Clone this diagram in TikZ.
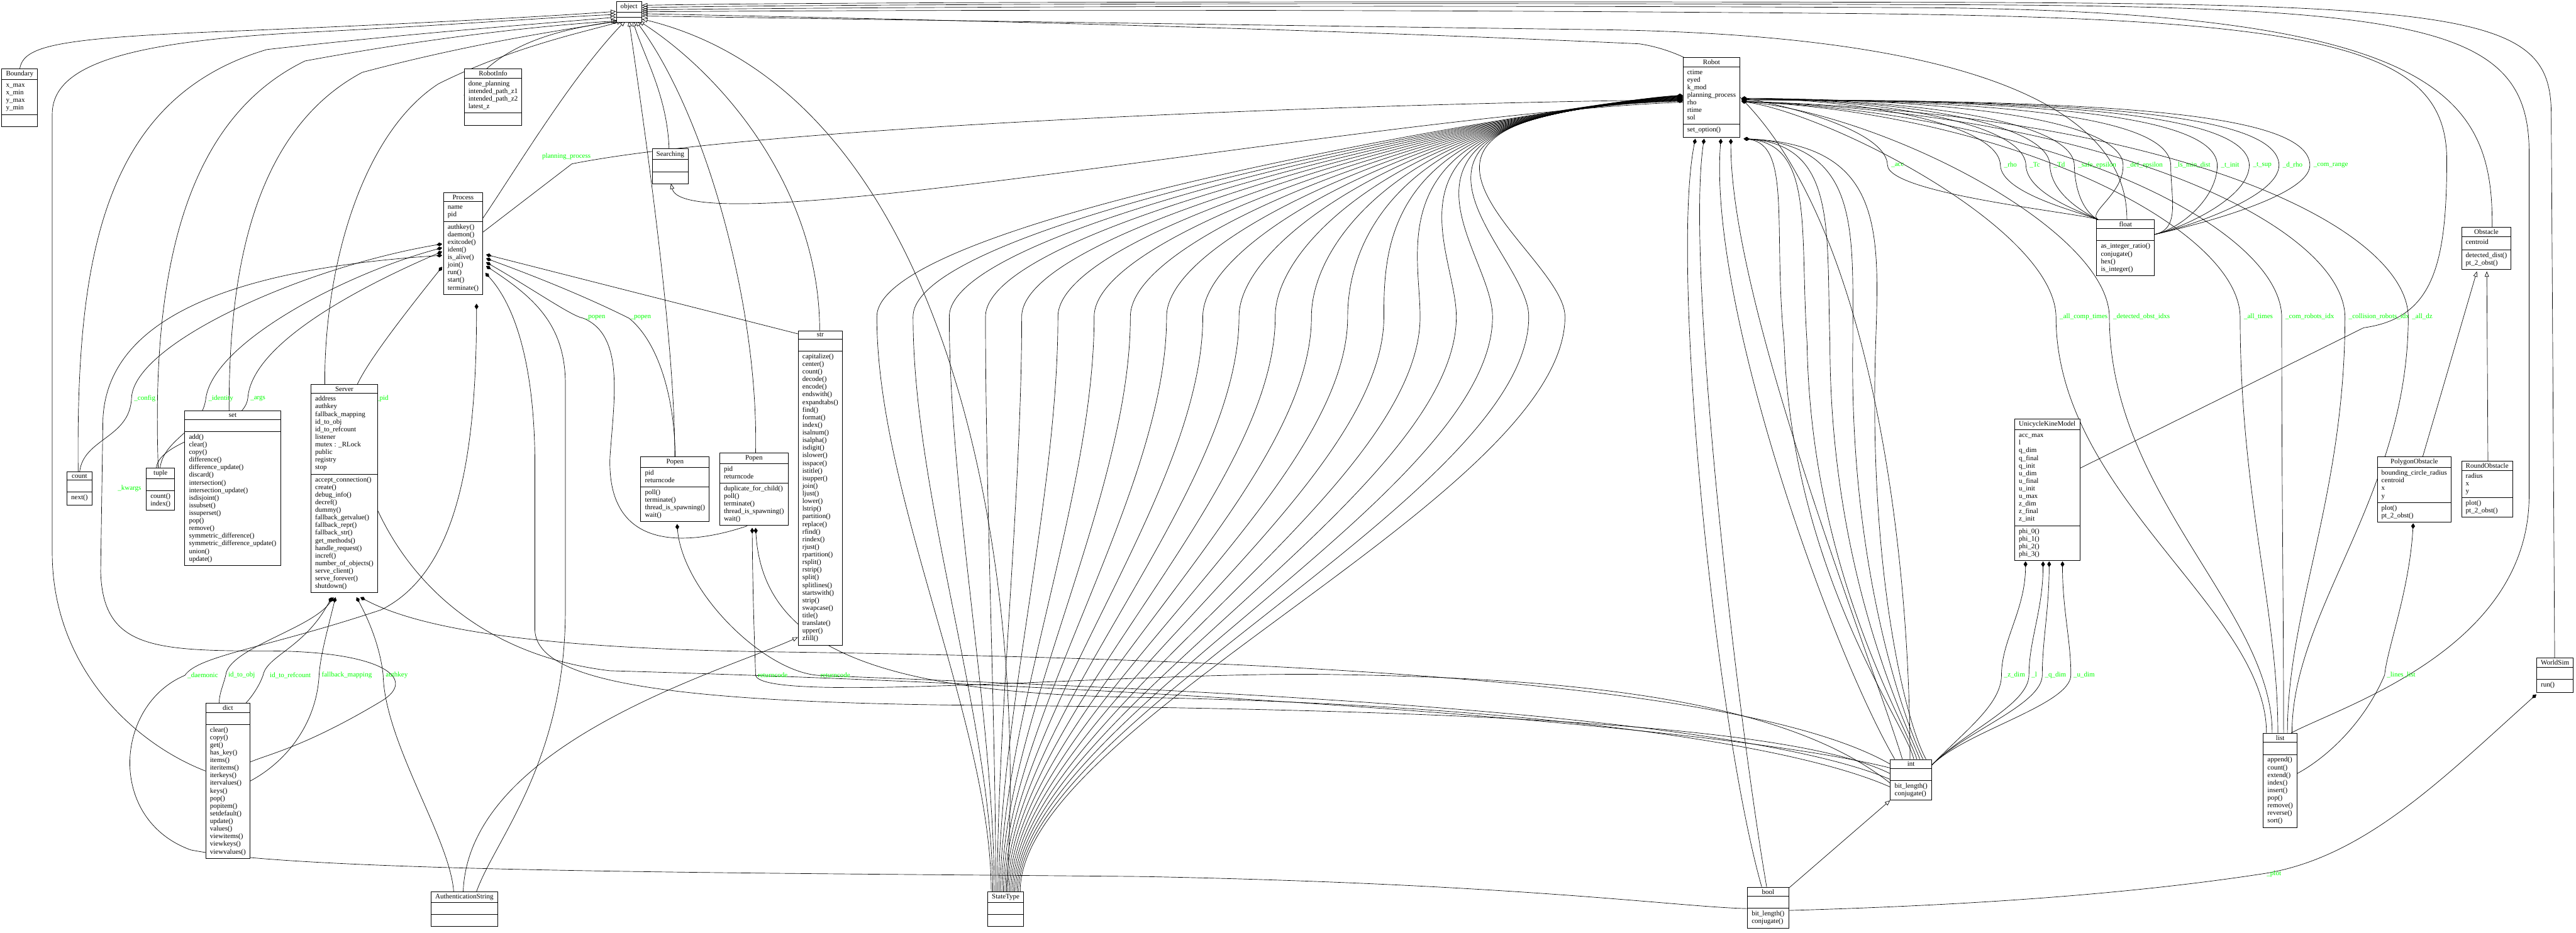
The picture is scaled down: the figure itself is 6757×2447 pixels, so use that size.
\documentclass[tikz,border=0pt]{standalone}
\usepackage{fontspec}
\setmainfont{Liberation Serif}
\usetikzlibrary{shapes.multipart,arrows.meta}
\newcommand\umlfont{\fontsize{1.82pt}{2.0pt}\selectfont}
\newcommand\cl[1]{\begin{tabular}{@{}l@{}}#1\end{tabular}}
\newcommand\thinpart{\rule{0pt}{0.2pt}}
\tikzset{
  cls/.style={rectangle split, rectangle split parts=3, draw, line width=0.15pt, font=\umlfont,
    rectangle split part align={center,left,left}, inner xsep=1.1pt, inner ysep=0.5pt, anchor=north west, fill=white},
  inh/.style={-{Triangle[open,length=1.4pt,width=1.1pt]}, line width=0.11pt},
  comp/.style={{Diamond[length=1.5pt,width=1.0pt]}-, line width=0.11pt},
  lbl/.style={text=green, font=\umlfont, inner sep=0pt, anchor=west}
}
\begin{document}
\begin{tikzpicture}[x=0.1pt,y=-0.1pt]
\useasboundingbox (0,0) rectangle (6757,2447);
% ---------- inheritance, left side
\draw[inh] (52,180) .. controls (62,120) and (150,100) .. (600,82) .. controls (1100,62) and (1450,42) .. (1616,30);
\draw[inh] (205,1237) .. controls (200,700) and (260,260) .. (700,130) .. controls (1100,85) and (1450,60) .. (1616,45);
\draw[inh] (415,1227) .. controls (400,800) and (450,330) .. (800,160) .. controls (1150,95) and (1450,65) .. (1618,55);
\draw[inh] (601,1078) .. controls (600,750) and (650,350) .. (950,190) .. controls (1250,110) and (1500,75) .. (1625,55);
\draw[inh] (852,1008) .. controls (850,700) and (950,350) .. (1150,220) .. controls (1350,120) and (1550,80) .. (1632,55);
\draw[inh] (1267,572) .. controls (1350,450) and (1500,200) .. (1640,55);
\draw[inh] (539,2023) .. controls (350,1950) and (137,1750) .. (137,1450) -- (137,300) .. controls (137,180) and (300,110) .. (800,85) .. controls (1200,65) and (1450,45) .. (1616,38);
\draw[inh] (1217,250) .. controls (1300,120) and (1450,80) .. (1622,55);
\draw[inh] (1755,390) .. controls (1750,250) and (1690,150) .. (1660,55);
\draw[inh] (1770,1198) .. controls (1770,900) and (1700,400) .. (1650,55);
\draw[inh] (1982,1188) .. controls (1990,800) and (1850,300) .. (1668,55);
\draw[inh] (2150,867) .. controls (2150,500) and (1900,200) .. (1676,55);
\draw[inh] (2640,2339) .. controls (2700,1500) and (2500,250) .. (1684,50);
% ---------- inheritance, right side (over the top)
\draw[inh] (5579,575) .. controls (5579,380) and (5400,95) .. (4200,78) .. controls (3000,62) and (2100,48) .. (1684,42);
\draw[inh] (5010,1992) .. controls (5010,1300) and (4850,200) .. (4300,115) .. controls (3200,65) and (2100,45) .. (1684,36);
\draw[inh] (5453,1230) -- (6200,860) .. controls (6380,835) and (6418,700) .. (6418,420) .. controls (6418,120) and (6100,45) .. (4800,35) .. controls (3300,22) and (2100,28) .. (1684,31);
\draw[inh] (6537,596) .. controls (6540,250) and (6400,25) .. (5000,20) .. controls (3500,12) and (2100,20) .. (1684,26);
\draw[inh] (6010,1923) .. controls (6150,1850) and (6634,1700) .. (6634,1300) -- (6634,400) .. controls (6634,60) and (6350,14) .. (5000,12) .. controls (3500,6) and (2100,12) .. (1684,20);
\draw[inh] (6701,1726) -- (6692,300) .. controls (6692,40) and (6500,8) .. (5000,6) .. controls (3500,3) and (2100,6) .. (1684,14);
% ---------- other inheritance
\draw[inh] (1215,2339) .. controls (1230,1950) and (1900,1760) .. (2093,1672);
\draw[inh] (4690,2332) -- (4958,2100);
\draw[inh] (6355,1198) -- (6497,712);
\draw[inh] (6526,1209) -- (6523,712);
\draw[inh] (4414,268) .. controls (3600,300) and (1800,650) .. (1760,482);
% ---------- Robot -> float
\foreach \lx/\nm in {4959/\_acc,5255/\_rho,5322/\_Tc,5385/\_Td,5449/\_safe\_epsilon,5577/\_def\_epsilon}{
  \draw[comp] (4568,258) .. controls ({\lx-350},262) and ({\lx-12},330) .. ({\lx-8},433) .. controls ({\lx-6},510) and (5470,560) .. (5505,577);
  \node[lbl] at (\lx,433) {\nm};}
\foreach \lx/\nm in {5702/\_ls\_min\_dist,5824/\_t\_init,5908/\_t\_sup,5986/\_d\_rho,6067/\_com\_range}{
  \draw[comp] (4568,262) .. controls ({\lx-500},262) and ({\lx-12},300) .. ({\lx-8},433) .. controls ({\lx-8},520) and (5720,600) .. (5652,615);
  \node[lbl] at (\lx,433) {\nm};}
% ---------- Robot -> list
\foreach \lx/\nm/\ex in {5401/\_all\_comp\_times/5945,5541/\_detected\_obst\_idxs/5960,5884/\_all\_times/5975,5993/\_com\_robots\_idx/5990,6159/\_collision\_robots\_idx/6000,6325/\_all\_dz/6012}{
  \draw[comp] (4568,266) .. controls ({\lx-600},300) and ({\lx-12},600) .. ({\lx-8},831) .. controls ({\lx-8},1300) and (\ex,1600) .. (\ex,1923);
  \node[lbl] at (\lx,831) {\nm};}
% ---------- Robot bottom -> int / bool
\draw[comp] (4447,364) .. controls (4380,700) and (4500,1900) .. (4621,2327);
\draw[comp] (4470,364) .. controls (4420,700) and (4560,1900) .. (4634,2327);
\draw[comp] (4514,364) .. controls (4480,800) and (4800,1700) .. (4970,1992);
\draw[comp] (4540,364) .. controls (4540,800) and (4900,1700) .. (4990,1992);
\foreach \k in {0,1,2,3,4}
  \draw[comp] (4574,364) .. controls ({4700+\k*60},380) and ({4650+\k*70},600) .. ({4680+\k*60},900) .. controls ({4700+\k*50},1500) and (5000,1900) .. ({5020+\k*8},1992);
% ---------- StateType fan -> Robot
\foreach \k in {0,...,19}
  \draw[comp] (4414,{250+\k*0.8}) .. controls ({4200-\k*40},{260+\k*2}) and ({2300+\k*95},{560+\k*5}) .. ({2300+\k*95},831) .. controls ({2300+\k*95},1300) and ({2600+\k*4},1900) .. ({2600+\k*4},2339);
% ---------- Robot -> Process
\draw[comp] (4414,262) .. controls (3600,270) and (2000,330) .. (1500,430) -- (1267,609);
\node[lbl] at (1420,410) {planning\_process};
% ---------- Process compositions
\draw[comp] (1275,668) -- (2093,876);
\draw[comp] (1275,678) .. controls (1500,760) and (1620,820) .. (1650,835) .. controls (1730,900) and (1770,1050) .. (1771,1198);
\node[lbl] at (1652,833) {\_popen};
\draw[comp] (1275,688) .. controls (1400,760) and (1500,830) .. (1530,835) .. controls (1640,880) and (1610,1050) .. (1600,1200) .. controls (1590,1500) and (1900,1400) .. (1960,1380);
\node[lbl] at (1532,833) {\_popen};
\draw[comp] (1275,698) .. controls (1400,780) and (1480,850) .. (1483,1000) -- (1483,1600) .. controls (1483,2000) and (1300,2200) .. (1250,2339);
\draw[comp] (1273,716) .. controls (1350,800) and (1400,950) .. (1403,1200) -- (1403,1650) .. controls (1403,1780) and (1700,1840) .. (2500,1850) .. controls (3800,1860) and (4700,1900) .. (4958,2030);
% Process left side
\draw[comp] (1160,640) .. controls (800,700) and (350,900) .. (345,1045) .. controls (340,1150) and (220,1150) .. (209,1237);
\node[lbl] at (350,1045) {\_config};
\draw[comp] (1160,650) .. controls (900,720) and (560,900) .. (540,1045) .. controls (530,1130) and (430,1150) .. (420,1227);
\node[lbl] at (545,1045) {\_identity};
\draw[comp] (1160,660) .. controls (950,750) and (660,900) .. (650,1045) .. controls (640,1130) and (420,1150) .. (410,1227);
\node[lbl] at (655,1045) {\_args};
\draw[comp] (1160,670) .. controls (700,700) and (283,800) .. (270,1100) -- (264,1500) .. controls (270,1700) and (400,1708) .. (700,1708) .. controls (1000,1708) and (1100,1780) .. (1000,1840) .. controls (800,1960) and (700,1980) .. (655,2000);
\node[lbl] at (307,1282) {\_kwargs};
\draw[comp] (1160,700) .. controls (1000,900) and (930,1000) .. (925,1045) .. controls (920,1300) and (1100,1700) .. (1600,1760) .. controls (3000,1800) and (4500,1900) .. (4958,2015);
\node[lbl] at (930,1045) {\_parent\_pid};
% ---------- Server compositions
\draw[comp] (875,1567) .. controls (820,1650) and (600,1700) .. (592,1772) .. controls (585,1800) and (575,1820) .. (575,1844);
\node[lbl] at (597,1772) {id\_to\_obj};
\draw[comp] (870,1567) .. controls (800,1700) and (700,1720) .. (690,1772) .. controls (680,1800) and (660,1830) .. (640,1850);
\node[lbl] at (706,1772) {id\_to\_refcount};
\draw[comp] (880,1567) .. controls (860,1650) and (840,1720) .. (837,1772) .. controls (830,1900) and (750,2000) .. (655,2050);
\node[lbl] at (842,1772) {fallback\_mapping};
\draw[comp] (935,1567) .. controls (980,1650) and (1000,1720) .. (1005,1772) .. controls (1010,1950) and (1180,2200) .. (1190,2339);
\node[lbl] at (1010,1772) {authkey};
\draw[comp] (945,1567) .. controls (1100,1650) and (1400,1700) .. (2000,1710) .. controls (3500,1730) and (4600,1800) .. (4958,2005);
% ---------- _daemonic: Process -> around dict -> bool
\draw[comp] (1250,797) .. controls (1250,1200) and (1200,1500) .. (1000,1600) .. controls (700,1700) and (520,1720) .. (485,1772) .. controls (300,1850) and (280,2150) .. (500,2230) .. controls (800,2290) and (2000,2290) .. (3000,2300) .. controls (4000,2320) and (4400,2380) .. (4583,2384);
\node[lbl] at (490,1772) {\_daemonic};
% ---------- Popen compositions
\draw[comp] (1776,1375) .. controls (1790,1550) and (2000,1760) .. (2145,1772) .. controls (2800,1800) and (4500,1850) .. (4958,2045);
\node[lbl] at (2150,1772) {returncode};
\draw[comp] (1973,1385) .. controls (1975,1600) and (1980,1700) .. (1982,1772) .. controls (2000,1850) and (3000,1760) .. (3500,1770) .. controls (4200,1780) and (4700,1850) .. (4958,2055);
\node[lbl] at (1986,1772) {returncode};
\draw[comp] (1982,1385) .. controls (2000,1700) and (2300,1820) .. (3000,1830) .. controls (4000,1850) and (4700,1950) .. (4958,2065);
% ---------- Unicycle -> int
\foreach \sx/\lx/\nm in {5313/5255/\_z\_dim,5359/5327/\_l,5375/5362/\_q\_dim,5410/5437/\_u\_dim}{
  \draw[comp] (\sx,1473) .. controls (\sx,1600) and ({\lx-5},1680) .. ({\lx-5},1771) .. controls ({\lx-5},1850) and (5150,1920) .. (5065,2010);
  \node[lbl] at (\lx,1771) {\nm};}
% ---------- Polygon -> list, WorldSim -> bool
\draw[comp] (6330,1373) .. controls (6320,1550) and (6262,1700) .. (6255,1771) .. controls (6200,1900) and (6100,1990) .. (6025,2030);
\node[lbl] at (6259,1771) {\_lines\_list};
\draw[comp] (6653,1822) .. controls (6400,2050) and (6200,2250) .. (5940,2292) .. controls (5500,2360) and (5000,2380) .. (4690,2389);
\node[lbl] at (5944,2292) {\_plot};
% ---------------- classes
\node[cls,anchor=north] (object) at (1650,3) {object\nodepart{two}\thinpart\nodepart{three}\thinpart};
\node[cls] (Boundary) at (4,180) {Boundary\nodepart{two}\cl{x\_max\\x\_min\\y\_max\\y\_min}\nodepart{three}\strut};
\node[cls] (RobotInfo) at (1217,180) {RobotInfo\nodepart{two}\cl{done\_planning\\intended\_path\_z1\\intended\_path\_z2\\latest\_z}\nodepart{three}\strut};
\node[cls] (Robot) at (4414,150) {Robot\nodepart{two}\cl{ctime\\eyed\\k\_mod\\planning\_process\\rho\\rtime\\sol}\nodepart{three}\cl{set\_option()}};
\node[cls,anchor=north east] (Process) at (1267,505) {Process\nodepart{two}\cl{name\\pid}\nodepart{three}\cl{authkey()\\daemon()\\exitcode()\\ident()\\is\_alive()\\join()\\run()\\start()\\terminate()}};
\node[cls] (Searching) at (1710,390) {Searching\nodepart{two}\strut\nodepart{three}\strut};
\node[cls] (Server) at (815,1008) {Server\nodepart{two}\cl{address\\authkey\\fallback\_mapping\\id\_to\_obj\\id\_to\_refcount\\listener\\mutex : \_RLock\\public\\registry\\stop}\nodepart{three}\cl{accept\_connection()\\create()\\debug\_info()\\decref()\\dummy()\\fallback\_getvalue()\\fallback\_repr()\\fallback\_str()\\get\_methods()\\handle\_request()\\incref()\\number\_of\_objects()\\serve\_client()\\serve\_forever()\\shutdown()}};
\node[cls] (str) at (2093,867) {str\nodepart{two}\strut\nodepart{three}\cl{capitalize()\\center()\\count()\\decode()\\encode()\\endswith()\\expandtabs()\\find()\\format()\\index()\\isalnum()\\isalpha()\\isdigit()\\islower()\\isspace()\\istitle()\\isupper()\\join()\\ljust()\\lower()\\lstrip()\\partition()\\replace()\\rfind()\\rindex()\\rjust()\\rpartition()\\rsplit()\\rstrip()\\split()\\splitlines()\\startswith()\\strip()\\swapcase()\\title()\\translate()\\upper()\\zfill()}};
\node[cls] (set) at (484,1078) {set\nodepart{two}\strut\nodepart{three}\cl{add()\\clear()\\copy()\\difference()\\difference\_update()\\discard()\\intersection()\\intersection\_update()\\isdisjoint()\\issubset()\\issuperset()\\pop()\\remove()\\symmetric\_difference()\\symmetric\_difference\_update()\\union()\\update()}};
\node[cls] (tuple) at (383,1227) {tuple\nodepart{two}\strut\nodepart{three}\cl{count()\\index()}};
\node[cls] (count) at (175,1237) {count\nodepart{two}\strut\nodepart{three}\cl{next()}};
\node[cls] (dict) at (539,1844) {dict\nodepart{two}\strut\nodepart{three}\cl{clear()\\copy()\\get()\\has\_key()\\items()\\iteritems()\\iterkeys()\\itervalues()\\keys()\\pop()\\popitem()\\setdefault()\\update()\\values()\\viewitems()\\viewkeys()\\viewvalues()}};
\node[cls] (Auth) at (1130,2339) {AuthenticationString\nodepart{two}\strut\nodepart{three}\strut};
\node[cls] (PopenA) at (1680,1198) {Popen\nodepart{two}\cl{pid\\returncode}\nodepart{three}\cl{poll()\\terminate()\\thread\_is\_spawning()\\wait()}};
\node[cls] (PopenB) at (1887,1188) {Popen\nodepart{two}\cl{pid\\returncode}\nodepart{three}\cl{duplicate\_for\_child()\\poll()\\terminate()\\thread\_is\_spawning()\\wait()}};
\node[cls] (StateType) at (2590,2339) {StateType\nodepart{two}\strut\nodepart{three}\strut};
\node[cls] (float) at (5499,575) {float\nodepart{two}\strut\nodepart{three}\cl{as\_integer\_ratio()\\conjugate()\\hex()\\is\_integer()}};
\node[cls] (int) at (4958,1992) {int\nodepart{two}\strut\nodepart{three}\cl{bit\_length()\\conjugate()}};
\node[cls] (bool) at (4583,2327) {bool\nodepart{two}\strut\nodepart{three}\cl{bit\_length()\\conjugate()}};
\node[cls] (list) at (5936,1923) {list\nodepart{two}\strut\nodepart{three}\cl{append()\\count()\\extend()\\index()\\insert()\\pop()\\remove()\\reverse()\\sort()}};
\node[cls] (Unicycle) at (5284,1099) {UnicycleKineModel\nodepart{two}\cl{acc\_max\\l\\q\_dim\\q\_final\\q\_init\\u\_dim\\u\_final\\u\_init\\u\_max\\z\_dim\\z\_final\\z\_init}\nodepart{three}\cl{phi\_0()\\phi\_1()\\phi\_2()\\phi\_3()}};
\node[cls] (Obstacle) at (6456,596) {Obstacle\nodepart{two}\cl{centroid}\nodepart{three}\cl{detected\_dist()\\pt\_2\_obst()}};
\node[cls] (Polygon) at (6235,1198) {PolygonObstacle\nodepart{two}\cl{bounding\_circle\_radius\\centroid\\x\\y}\nodepart{three}\cl{plot()\\pt\_2\_obst()}};
\node[cls] (Round) at (6456,1209) {RoundObstacle\nodepart{two}\cl{radius\\x\\y}\nodepart{three}\cl{plot()\\pt\_2\_obst()}};
\node[cls] (WorldSim) at (6653,1726) {WorldSim\nodepart{two}\strut\nodepart{three}\cl{run()}};
\end{tikzpicture}
\end{document}
